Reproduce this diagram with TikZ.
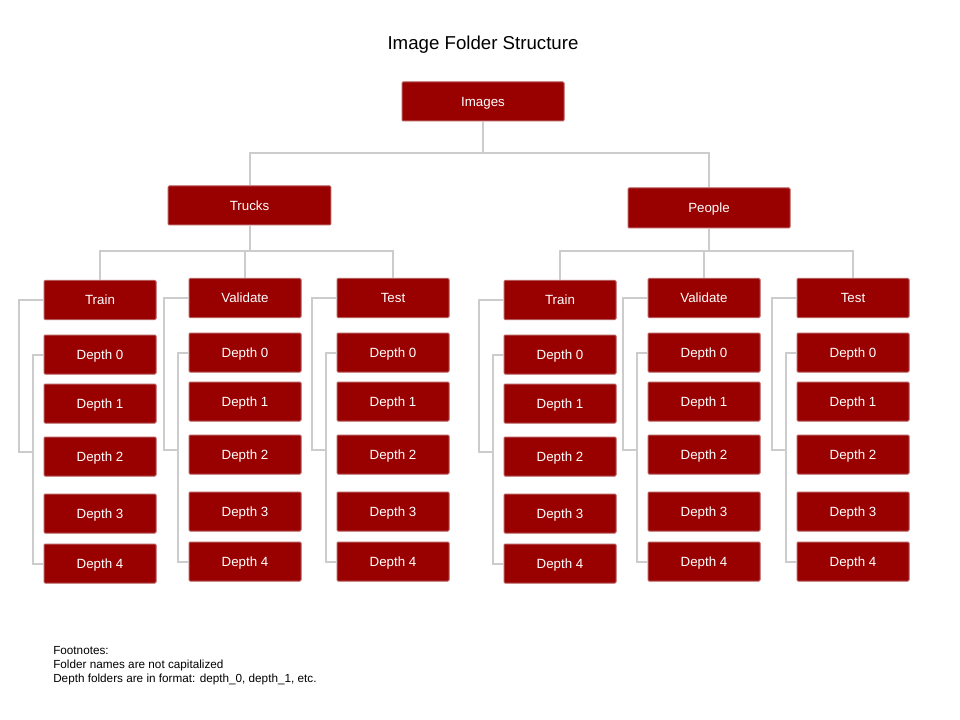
\documentclass[tikz,border=0pt]{standalone}
\usepackage{fontspec}
\setmainfont{Liberation Sans}
\usepackage{tikz}
\usetikzlibrary{positioning,calc}
\definecolor{folderred}{HTML}{990000}
\definecolor{folderedge}{HTML}{B55858}
\definecolor{linkgray}{HTML}{CCCCCC}
\tikzset{
	folder/.style={draw=folderedge, fill=folderred, line width=0.75pt, rounded corners=0.8pt,
		text=white, font=\fontsize{10}{12}\selectfont, inner sep=0pt,
		text height=7.2pt, text depth=0pt,
		minimum width=84pt, minimum height=29.25pt},
	link/.style={draw=linkgray, line width=1.5pt}
}

\begin{document}
\begin{tikzpicture}[x=0.75pt, y=-0.75pt]
	\useasboundingbox (0,0) rectangle (960,720);

	% title
	\node[font=\fontsize{14}{16}\selectfont] (title) at (483,44.5) {Image Folder Structure};

	% top levels
	\node[folder, minimum width=121.5pt] (img) at (483,101.5) {Images};
	\node[folder, minimum width=122pt] (trucks) at (249.5,205.5) {Trucks};
	\node[folder, minimum width=121.5pt, minimum height=30pt] (people) at (709,208) {People};

	\draw[link] (img.south) -- ++(0,32) -| (trucks.north);
	\draw[link] (img.south) -- ++(0,32) -| (people.north);

	% split folders and their depth folders
	\foreach \col/\lbl/\lx/\dy in {tt/Train/44/2, tv/Validate/189/0, ts/Test/337/0,
		pt/Train/504/2, pv/Validate/648/0, ps/Test/797/0}{
		\node[folder] (\col) at (\lx+56,298+\dy) {\lbl};
		\foreach \d/\yy in {0/352.5, 1/401.5, 2/454.5, 3/511.5, 4/561.5}
			\node[folder] (\col-\d) at (\lx+56,\yy+\dy) {Depth \d};
		\coordinate (\col-e) at (\lx-11,450+\dy);
		\draw[link] (\col.west) -- ++(-25,0) |- (\col-e);
		\draw[link] (\col-0.west) -- ++(-11,0) |- (\col-4.west);
	}

	\draw[link] (trucks.south) -- ++(0,26) -| (tt.north);
	\draw[link] (trucks.south) -- ++(0,26) -| (tv.north);
	\draw[link] (trucks.south) -- ++(0,26) -| (ts.north);
	\draw[link] (people.south) -- ++(0,23) -| (pt.north);
	\draw[link] (people.south) -- ++(0,23) -| (pv.north);
	\draw[link] (people.south) -- ++(0,23) -| (ps.north);

	% footnotes
	\node[anchor=west, align=left, inner sep=0pt, font=\fontsize{8.8}{10.5}\selectfont] (notes) at (53,666)
		{Footnotes:\\Folder names are not capitalized\\Depth folders are in format: depth\_0, depth\_1, etc.};
\end{tikzpicture}
\end{document}
